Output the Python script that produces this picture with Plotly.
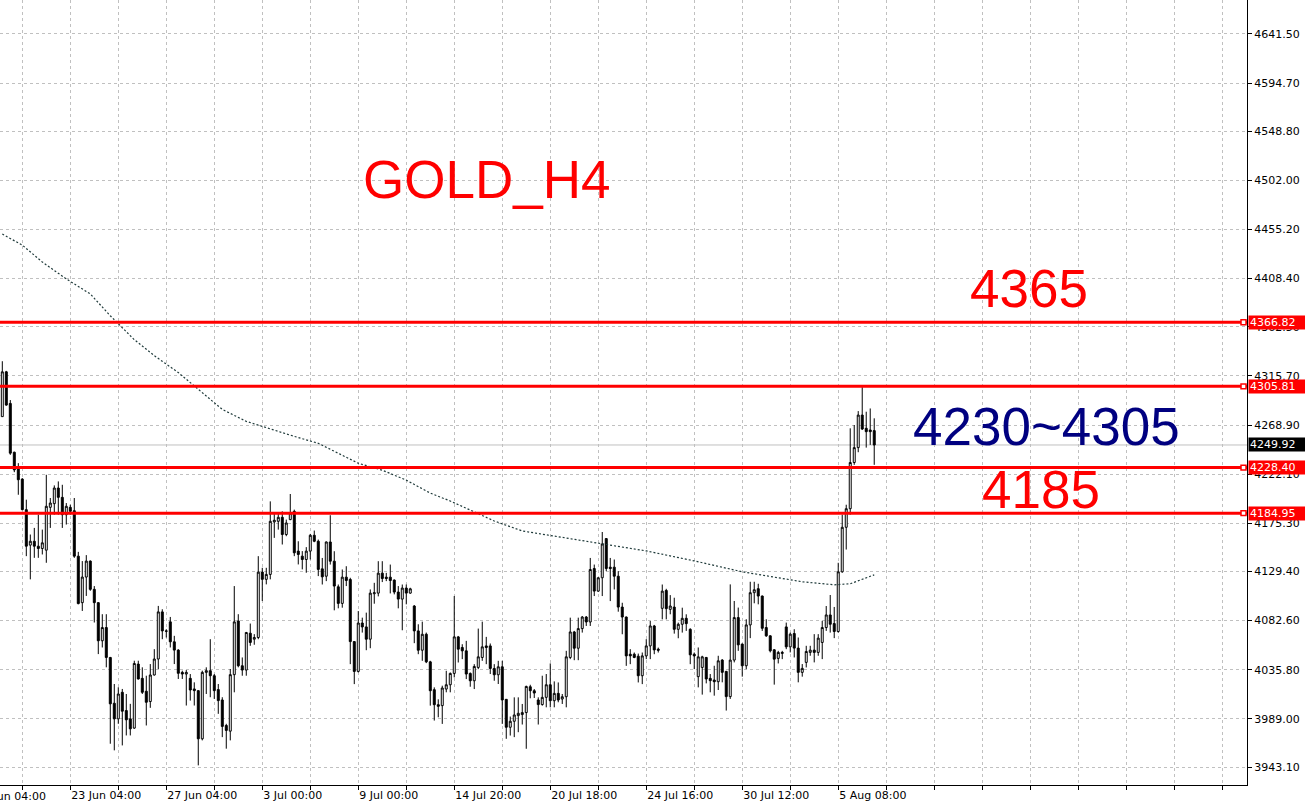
import plotly.graph_objects as go

# GOLD H4 candles (bar index = position from the left edge)
opens = [
    4276.9, 4319.6, 4289.5, 4243.0, 4228.5, 4217.4, 4188.3, 4154.5, 4158.2, 4153.5,
    4151.3, 4149.7, 4190.5, 4194.0, 4208.9, 4200.0, 4183.5, 4190.5, 4187.3, 4144.0,
    4099.7, 4124.1, 4139.3, 4112.4, 4099.7, 4063.4, 4076.0, 4047.5, 4003.9, 3989.0,
    4014.3, 3996.9, 3989.0, 3980.2, 4041.2, 4027.6, 4015.3, 4005.5, 4030.8, 4046.0,
    4090.9, 4072.8, 4081.4, 4062.4, 4054.5, 4033.3, 4031.7, 4027.6, 4017.5, 4015.9,
    3970.0, 4033.3, 4034.9, 4030.1, 4016.9, 4007.0, 3982.7, 3977.3, 4031.1, 4082.3,
    4039.6, 4035.5, 4070.6, 4064.9, 4066.5, 4128.8, 4121.9, 4126.6, 4176.6, 4177.2,
    4181.0, 4164.6, 4178.8, 4186.7, 4148.8, 4144.0, 4140.8, 4148.8, 4163.9, 4158.2,
    4131.9, 4124.9, 4157.5, 4139.2, 4114.8, 4099.0, 4124.0, 4121.8, 4062.6, 4034.2,
    4080.3, 4076.6, 4064.9, 4108.2, 4108.8, 4127.8, 4124.0, 4124.0, 4121.2, 4109.8,
    4103.1, 4113.6, 4108.8, 4096.5, 4072.8, 4054.4, 4069.6, 4043.3, 4016.8, 4002.5,
    4001.6, 4017.4, 4021.5, 4032.3, 4067.1, 4057.0, 4053.8, 4032.3, 4025.3, 4038.0,
    4047.5, 4058.5, 4058.5, 4037.0, 4031.0, 4038.6, 4007.6, 3981.0, 3986.7, 3992.1,
    3993.1, 3995.0, 4019.6, 4015.8, 4007.0, 4002.6, 4009.5, 4021.5, 4006.3, 4013.3,
    4007.9, 4010.1, 4047.5, 4071.8, 4056.3, 4075.0, 4086.0, 4081.3, 4132.2, 4110.7,
    4123.4, 4160.7, 4133.5, 4133.5, 4124.9, 4095.5, 4086.0, 4050.6, 4050.6, 4048.7,
    4030.1, 4049.0, 4058.5, 4077.5, 4055.4, 4094.3, 4111.3, 4093.3, 4095.5, 4074.3,
    4079.1, 4084.8, 4074.3, 4050.6, 4029.2, 4038.0, 4047.5, 4027.6, 4026.0, 4024.4,
    4045.0, 4034.2, 4010.2, 4045.0, 4085.5, 4060.2, 4039.6, 4078.5, 4109.2, 4113.0,
    4106.0, 4076.0, 4068.1, 4054.8, 4046.6, 4051.3, 4076.6, 4057.6, 4070.3, 4056.4,
    4033.3, 4042.8, 4052.3, 4054.5, 4052.3, 4061.8, 4076.0, 4088.0, 4079.8, 4072.2,
    4129.1, 4171.5, 4189.2, 4233.2, 4247.4, 4278.4, 4265.8, 4264.2, 4263.6,
]
highs = [
    4329.7, 4320.5, 4292.7, 4243.5, 4232.6, 4218.3, 4197.8, 4164.6, 4170.9, 4183.5,
    4169.3, 4221.5, 4199.4, 4211.4, 4215.2, 4212.0, 4194.6, 4193.0, 4199.4, 4148.1,
    4139.3, 4145.0, 4139.9, 4115.5, 4100.2, 4088.7, 4088.7, 4048.0, 4022.2, 4019.1,
    4017.5, 4012.7, 4003.3, 4044.4, 4044.4, 4038.1, 4030.1, 4041.2, 4055.4, 4096.6,
    4093.4, 4074.4, 4086.1, 4068.1, 4055.4, 4034.9, 4035.5, 4031.7, 4023.8, 4016.4,
    4034.9, 4038.1, 4064.9, 4031.7, 4022.2, 4009.6, 3984.3, 4036.5, 4115.5, 4088.7,
    4047.5, 4071.8, 4079.8, 4069.7, 4144.0, 4132.9, 4132.9, 4196.2, 4185.1, 4185.1,
    4186.7, 4178.8, 4203.2, 4188.3, 4158.2, 4148.8, 4152.6, 4165.2, 4168.4, 4159.8,
    4142.3, 4158.0, 4183.0, 4148.7, 4117.0, 4131.3, 4134.4, 4123.4, 4063.0, 4091.7,
    4085.4, 4090.2, 4112.3, 4118.6, 4139.2, 4139.2, 4128.1, 4136.0, 4121.8, 4115.5,
    4117.0, 4117.0, 4113.9, 4097.4, 4079.1, 4081.6, 4071.2, 4044.3, 4019.0, 4007.6,
    4020.6, 4034.8, 4033.2, 4106.0, 4068.0, 4060.1, 4063.3, 4033.2, 4041.1, 4075.0,
    4081.6, 4067.1, 4060.8, 4041.1, 4044.3, 4044.3, 4007.9, 3991.2, 4009.5, 4009.5,
    4003.2, 4020.6, 4021.5, 4017.4, 4009.5, 4030.1, 4031.7, 4041.8, 4024.7, 4023.7,
    4012.7, 4053.8, 4085.4, 4072.8, 4085.4, 4087.0, 4087.0, 4142.3, 4136.0, 4123.9,
    4167.0, 4161.2, 4142.3, 4140.8, 4129.7, 4099.6, 4086.5, 4055.4, 4052.2, 4051.2,
    4052.2, 4064.9, 4082.2, 4078.5, 4056.9, 4117.0, 4112.9, 4106.9, 4104.4, 4080.7,
    4094.9, 4088.6, 4075.3, 4052.2, 4057.0, 4049.1, 4048.0, 4031.7, 4039.6, 4049.1,
    4045.9, 4034.7, 4117.1, 4101.3, 4095.0, 4060.8, 4083.9, 4119.6, 4119.6, 4117.7,
    4106.5, 4083.9, 4068.6, 4055.4, 4053.8, 4053.8, 4080.7, 4071.2, 4074.4, 4066.5,
    4041.2, 4058.6, 4058.6, 4069.7, 4069.7, 4082.3, 4096.5, 4107.0, 4095.6, 4137.7,
    4183.5, 4193.0, 4265.8, 4268.9, 4282.2, 4305.0, 4281.6, 4284.7, 4275.3,
]
lows = [
    4276.9, 4287.3, 4240.5, 4224.0, 4202.5, 4187.8, 4144.0, 4121.9, 4142.4, 4142.4,
    4145.6, 4137.7, 4170.9, 4183.5, 4183.5, 4170.9, 4174.1, 4183.5, 4142.4, 4098.1,
    4091.8, 4106.1, 4111.0, 4080.8, 4050.7, 4057.0, 4038.1, 3965.3, 3959.0, 3984.3,
    3963.7, 3973.2, 3973.2, 3979.5, 4026.5, 4012.7, 3982.7, 3999.5, 4030.3, 4036.5,
    4064.9, 4066.5, 4057.0, 4041.2, 4027.0, 4027.0, 4001.7, 4006.4, 4001.7, 3944.7,
    3968.5, 4012.7, 4009.6, 4008.0, 3993.8, 3971.6, 3960.6, 3968.5, 4014.3, 4038.1,
    4030.1, 4030.1, 4058.6, 4059.6, 4064.9, 4101.3, 4117.1, 4121.9, 4161.4, 4169.3,
    4155.1, 4163.0, 4178.3, 4144.0, 4136.1, 4131.4, 4128.2, 4140.8, 4157.3, 4125.0,
    4117.0, 4120.2, 4136.0, 4092.4, 4094.3, 4094.9, 4115.5, 4041.1, 4022.1, 4033.2,
    4071.2, 4054.4, 4056.3, 4098.7, 4105.7, 4119.3, 4120.2, 4108.5, 4107.6, 4094.3,
    4073.4, 4098.1, 4108.2, 4061.1, 4050.6, 4044.3, 4042.1, 4001.6, 3987.4, 3990.5,
    3984.2, 4014.3, 4014.3, 4028.5, 4042.7, 4045.9, 4026.9, 4019.6, 4017.4, 4036.4,
    4044.3, 4041.1, 4031.7, 4025.3, 4022.2, 3984.2, 3970.0, 3973.1, 3971.6, 3976.3,
    3983.6, 3960.5, 4008.6, 4008.9, 3983.6, 4001.6, 4000.0, 4000.0, 4000.0, 4004.8,
    4003.2, 4000.0, 4045.9, 4044.9, 4044.9, 4071.2, 4077.5, 4077.5, 4106.0, 4110.0,
    4106.0, 4129.7, 4101.2, 4112.3, 4091.1, 4069.6, 4039.5, 4041.1, 4046.8, 4023.7,
    4022.1, 4045.9, 4045.9, 4050.6, 4052.2, 4083.8, 4083.8, 4088.6, 4070.2, 4065.8,
    4071.2, 4072.8, 4041.1, 4036.4, 4019.0, 4012.1, 4022.8, 4014.3, 4011.1, 4016.5,
    4023.8, 3996.9, 4008.0, 4042.8, 4053.8, 4029.2, 4036.4, 4065.9, 4099.1, 4098.1,
    4072.8, 4067.1, 4052.3, 4021.6, 4041.8, 4045.9, 4055.4, 4052.3, 4047.5, 4023.8,
    4029.2, 4038.0, 4049.1, 4042.8, 4049.1, 4045.9, 4072.8, 4071.2, 4065.9, 4071.2,
    4128.2, 4150.3, 4183.5, 4231.0, 4243.0, 4264.2, 4247.4, 4250.0, 4231.0,
]
closes = [
    4319.6, 4287.9, 4242.1, 4226.2, 4216.8, 4188.3, 4153.5, 4158.2, 4153.5, 4151.3,
    4156.7, 4191.5, 4194.6, 4208.9, 4200.0, 4183.5, 4191.5, 4186.7, 4144.0, 4098.8,
    4124.1, 4139.3, 4112.4, 4099.7, 4063.4, 4076.0, 4047.5, 4003.3, 3989.0, 4012.7,
    3996.3, 3988.1, 3979.5, 4041.8, 4027.0, 4014.3, 4004.8, 4030.8, 4046.0, 4090.9,
    4072.8, 4072.5, 4062.4, 4054.5, 4032.4, 4031.7, 4033.3, 4016.5, 4015.9, 3970.0,
    4033.3, 4034.9, 4030.1, 4015.9, 4006.4, 3981.8, 3978.0, 4031.1, 4081.4, 4039.6,
    4035.5, 4071.3, 4061.8, 4066.5, 4128.8, 4121.9, 4126.6, 4177.2, 4178.2, 4181.0,
    4164.6, 4175.6, 4185.1, 4147.2, 4145.6, 4140.8, 4148.8, 4163.9, 4158.2, 4131.4,
    4124.3, 4157.5, 4139.2, 4115.5, 4099.0, 4124.0, 4120.8, 4062.6, 4034.2, 4080.3,
    4076.6, 4064.9, 4108.8, 4109.1, 4127.8, 4122.7, 4122.7, 4120.8, 4109.8, 4103.1,
    4113.6, 4108.8, 4112.9, 4072.8, 4054.4, 4069.6, 4043.3, 4015.8, 4002.5, 4001.0,
    4018.4, 4021.5, 4032.3, 4067.1, 4055.4, 4053.8, 4031.7, 4025.3, 4038.9, 4048.1,
    4057.6, 4057.0, 4037.0, 4031.0, 4038.6, 4007.0, 3981.0, 3986.7, 3992.7, 3994.3,
    3995.0, 4019.9, 4015.8, 4013.6, 4002.6, 4009.5, 4021.5, 4006.3, 4013.3, 4007.0,
    4010.1, 4048.1, 4071.8, 4056.3, 4075.0, 4086.0, 4081.3, 4131.3, 4110.7, 4123.4,
    4155.6, 4132.2, 4132.2, 4124.9, 4095.5, 4086.0, 4049.0, 4049.0, 4047.5, 4030.1,
    4049.0, 4058.5, 4077.5, 4054.7, 4054.4, 4110.7, 4094.0, 4096.5, 4074.3, 4079.1,
    4084.8, 4079.7, 4050.0, 4049.0, 4048.1, 4048.1, 4027.0, 4025.4, 4024.4, 4044.3,
    4033.3, 4010.2, 4045.0, 4085.5, 4059.5, 4039.6, 4078.5, 4109.2, 4112.0, 4106.0,
    4075.3, 4068.1, 4053.8, 4045.9, 4052.3, 4052.3, 4057.6, 4069.7, 4056.4, 4033.3,
    4037.1, 4053.2, 4054.5, 4052.3, 4065.9, 4076.0, 4088.0, 4079.1, 4072.2, 4129.1,
    4171.5, 4189.2, 4233.2, 4247.4, 4278.4, 4265.1, 4262.6, 4262.6, 4249.92,
]

# moving average (dotted line), sampled along the chart
ma_bars = [0, 5, 10, 16, 22, 27, 33, 38, 44, 50, 55, 61, 68, 73, 79, 84, 89, 95,
           101, 107, 112, 117, 123, 130, 141, 149, 161, 173, 185, 200, 208, 212, 218]
ma_values = [4450.8, 4440.3, 4424.2, 4408.1, 4393.8, 4373.0, 4350.2, 4335.0, 4318.9,
             4299.9, 4283.8, 4272.4, 4263.8, 4258.1, 4251.5, 4242.0, 4232.5, 4225.9,
             4216.4, 4204.1, 4196.5, 4187.9, 4177.5, 4168.0, 4161.3, 4156.6, 4149.0,
             4139.5, 4129.1, 4119.6, 4116.7, 4117.7, 4126.2]

levels = [4366.82, 4305.81, 4228.40, 4184.95]
last_price = 4249.92

price_ticks = [3943.10, 3989.00, 4035.80, 4082.60, 4129.40, 4175.30, 4222.10, 4268.90,
               4315.70, 4362.50, 4408.40, 4455.20, 4502.00, 4548.80, 4594.70, 4641.50]
grid_bars = list(range(5, 312, 12))
time_labels = {17: "23 Jun 04:00", 41: "27 Jun 04:00", 65: "3 Jul 00:00",
               89: "9 Jul 00:00", 113: "14 Jul 20:00", 137: "20 Jul 18:00",
               161: "24 Jul 16:00", 185: "30 Jul 12:00", 209: "5 Aug 08:00"}
# the first date label sits left of the visible bars and is cut by the edge
first_label = "19 Jun 04:00"

notes = [
    ("GOLD_H4", 121.1, 4502.4, "#FF0000"),
    ("4365", 256.7, 4399.0, "#FF0000"),
    ("4230~4305", 261.0, 4267.1, "#000080"),
    ("4185", 259.8, 4207.3, "#FF0000"),
]

bars = list(range(len(opens)))
GRID = "#C0C0C0"
AXIS_FONT = dict(family="DejaVu Sans", size=11, color="black")

fig = go.Figure()
fig.add_trace(go.Candlestick(
    x=bars, open=opens, high=highs, low=lows, close=closes,
    increasing=dict(line=dict(color="black", width=1), fillcolor="white"),
    decreasing=dict(line=dict(color="black", width=1), fillcolor="black"),
    whiskerwidth=0, hoverinfo="skip", showlegend=False,
))
fig.add_trace(go.Scatter(
    x=ma_bars, y=ma_values, mode="lines",
    line=dict(color="#1F3A3A", width=1.2, dash="2px,2px"),
    hoverinfo="skip", showlegend=False,
))

shapes = [dict(type="line", xref="paper", x0=0, x1=1, yref="y", y0=last_price, y1=last_price,
               line=dict(color=GRID, width=1), layer="below")]
annotations = []
for lv in levels:
    shapes.append(dict(type="line", xref="paper", x0=0, x1=1, yref="y", y0=lv, y1=lv,
                       line=dict(color="#FF0000", width=3)))
    shapes.append(dict(type="rect", xref="paper", x0=0.9952, x1=0.9992, yref="y",
                       y0=lv - 2.3, y1=lv + 2.3, line=dict(color="#FF0000", width=1.5),
                       fillcolor="white"))
    annotations.append(dict(xref="paper", x=1, xanchor="left", xshift=1, yref="y", y=lv,
                            text=f"{lv:.2f}", showarrow=False, bgcolor="#FF0000",
                            font=dict(family="DejaVu Sans", size=11, color="white"),
                            width=54, height=11, align="left", borderpad=1))
annotations.append(dict(xref="paper", x=1, xanchor="left", xshift=1, yref="y", y=last_price,
                        text=f"{last_price:.2f}", showarrow=False, bgcolor="black",
                        font=dict(family="DejaVu Sans", size=11, color="white"),
                        width=54, height=11, align="left", borderpad=1))
annotations.append(dict(xref="paper", x=-0.0209, xanchor="left", yref="paper", y=0,
                        yanchor="top", yshift=-3, text=first_label, showarrow=False,
                        font=AXIS_FONT))
for txt, bx, py, col in notes:
    annotations.append(dict(xref="x", x=bx, yref="y", y=py, text=txt, showarrow=False,
                            xanchor="center", yanchor="middle",
                            font=dict(family="Liberation Sans", size=53, color=col)))

fig.update_layout(
    width=1305, height=802,
    margin=dict(l=0, r=58, t=0, b=14),
    paper_bgcolor="white", plot_bgcolor="white",
    showlegend=False,
    font=AXIS_FONT,
    shapes=shapes,
    annotations=annotations,
    xaxis=dict(
        range=[-0.575, 311.2],
        rangeslider=dict(visible=False),
        tickmode="array",
        tickvals=grid_bars,
        ticktext=[time_labels.get(b, "") for b in grid_bars],
        ticklabelposition="outside right",
        ticks="outside", ticklen=4, tickcolor="black",
        showgrid=True, gridcolor=GRID, griddash="3px,3px", gridwidth=1,
        showline=True, linecolor="black", linewidth=1,
        zeroline=False, tickfont=AXIS_FONT,
    ),
    yaxis=dict(
        side="right",
        range=[3926.0, 4673.8],
        tickmode="array",
        tickvals=price_ticks,
        ticktext=[f"{v:.2f}" for v in price_ticks],
        ticks="outside", ticklen=4, tickcolor="black",
        showgrid=True, gridcolor=GRID, griddash="3px,3px", gridwidth=1,
        showline=True, linecolor="black", linewidth=1,
        zeroline=False, tickfont=AXIS_FONT,
    ),
)

# the page's default body margin would push the chart 8px down and right
fig.write_html("out.html", config={"displayModeBar": False},
               post_script="document.body.style.margin = '0';")
